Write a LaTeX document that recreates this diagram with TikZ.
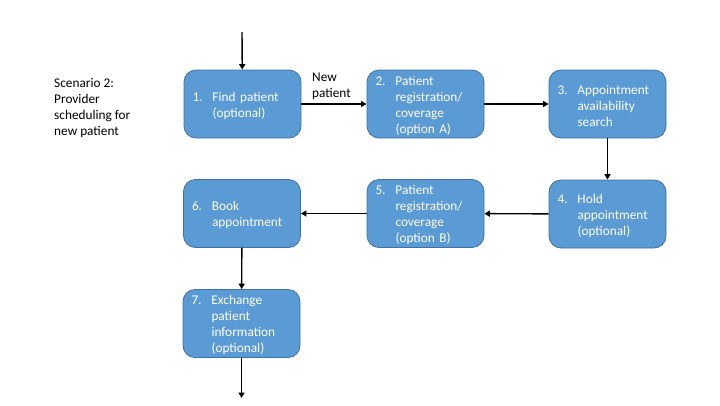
\documentclass[tikz,border=0pt]{standalone}
\usepackage{fontspec}
\setmainfont{Carlito}
\usepackage{tikz}
\usetikzlibrary{arrows.meta}
\definecolor{stepFill}{HTML}{5B9BD5}
\definecolor{stepEdge}{HTML}{41719C}
\tikzset{
  flow box/.style={draw=stepEdge, fill=stepFill, line width=0.8pt, rounded corners=12pt,
    minimum width=117pt, minimum height=68pt, inner sep=0pt, text width=100pt,
    align=left, text=white, font=\fontsize{13.3}{16}\selectfont},
  flow arrow/.style={line width=1.4pt, -{Triangle[length=5.5pt,width=6pt]}},
  plain label/.style={align=left, inner sep=0pt, font=\fontsize{13.3}{16}\selectfont}
}
\newcommand\numbered[2]{\makebox[20pt][l]{#1}\parbox[t]{80pt}{\raggedright #2}\vspace*{-3pt}}

\begin{document}
\begin{tikzpicture}[x=1pt, y=-1pt]
\useasboundingbox (0,0) rectangle (720,405);
\node[plain label, anchor=west] (scenario) at (54,107.5) {Scenario 2:\\Provider\\scheduling for\\new patient};
% steps
\node[flow box] (s1) at (242.5,104) {\numbered{1.}{Find patient\\(optional)}};
\node[flow box] (s2) at (425.5,104) {\numbered{2.}{Patient\\registration/\\coverage\\(option A)}};
\node[flow box] (s3) at (607.5,104) {\numbered{3.}{Appointment\\availability\\search}};
\node[flow box] (s4) at (607.5,214) {\numbered{4.}{Hold\\appointment\\(optional)}};
\node[flow box] (s5) at (425.5,213.5) {\numbered{5.}{Patient\\registration/\\coverage\\(option B)}};
\node[flow box] (s6) at (242,213.5) {\numbered{6.}{Book\\appointment}};
\node[flow box] (s7) at (241.5,323.5) {\numbered{7.}{Exchange\\patient\\information\\(optional)}};
\node[plain label, anchor=west] (newPatient) at (312,86) {New\\patient};
% connectors
\coordinate (entry) at (242,32);
\coordinate (exit) at (241.5,398);
\draw[flow arrow] (entry) -- (s1);
\foreach \a/\b in {s1/s2, s2/s3, s3/s4, s4/s5, s5/s6, s6/s7}
  \draw[flow arrow] (\a) -- (\b);
\draw[flow arrow] (s7) -- (exit);
\end{tikzpicture}
\end{document}
